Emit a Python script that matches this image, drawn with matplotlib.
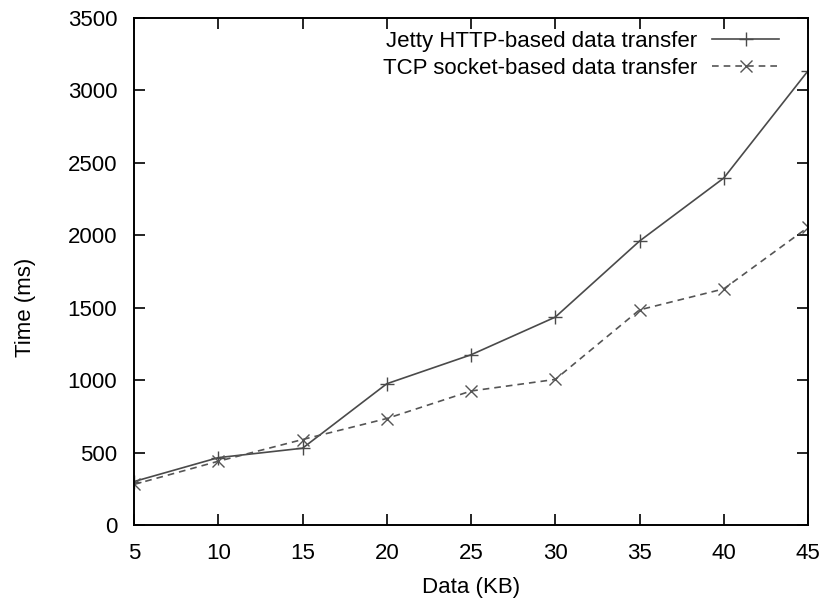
import matplotlib
matplotlib.use("Agg")
import matplotlib.pyplot as plt

plt.rcParams['font.family'] = ['Liberation Sans', 'DejaVu Sans']

data_kb = [5, 10, 15, 20, 25, 30, 35, 40, 45]
jetty_ms = [300, 465, 530, 975, 1175, 1435, 1960, 2395, 3135]
tcp_ms = [280, 440, 590, 735, 925, 1005, 1485, 1630, 2055]

W, H = 827, 598
fig = plt.figure(figsize=(W/100, H/100), dpi=100)
ax = fig.add_axes([134/W, 1-525/H, (808-134)/W, (525-18)/H])

ax.plot(data_kb, jetty_ms, color='#4a4a4a', lw=1.2, marker='+', ms=10, mew=1.0,
        label='Jetty HTTP-based data transfer')
ax.plot(data_kb, tcp_ms, color='#555555', lw=1.2, ls=(0, (4, 3)), marker='x', ms=9, mew=1.0,
        label='TCP socket-based data transfer')

ax.set_xlim(5, 45)
ax.set_ylim(0, 3500)
ax.set_xticks(range(5, 50, 5))
ax.set_yticks(range(0, 4000, 500))
ax.tick_params(direction='in', top=True, right=True, length=8, width=1.2, labelsize=16, pad=12)
ax.tick_params(axis='x', pad=13)
for s in ax.spines.values():
    s.set_linewidth(1.4)
ax.set_xlabel('Data (KB)', fontsize=16)
ax.set_ylabel('Time (ms)', fontsize=16)
ax.xaxis.set_label_coords(0.5, (525-577)/507)
ax.yaxis.set_label_coords((36-134)/674, (525-307)/507)

leg = ax.legend(loc='upper right', bbox_to_anchor=(779/W, 1-31/H), bbox_transform=fig.transFigure,
                frameon=False, markerfirst=False, fontsize=16,
                handlelength=3.0, borderaxespad=0, borderpad=0, labelspacing=0.25,
                handletextpad=0.7)

fig.savefig('out.png', dpi=100)
